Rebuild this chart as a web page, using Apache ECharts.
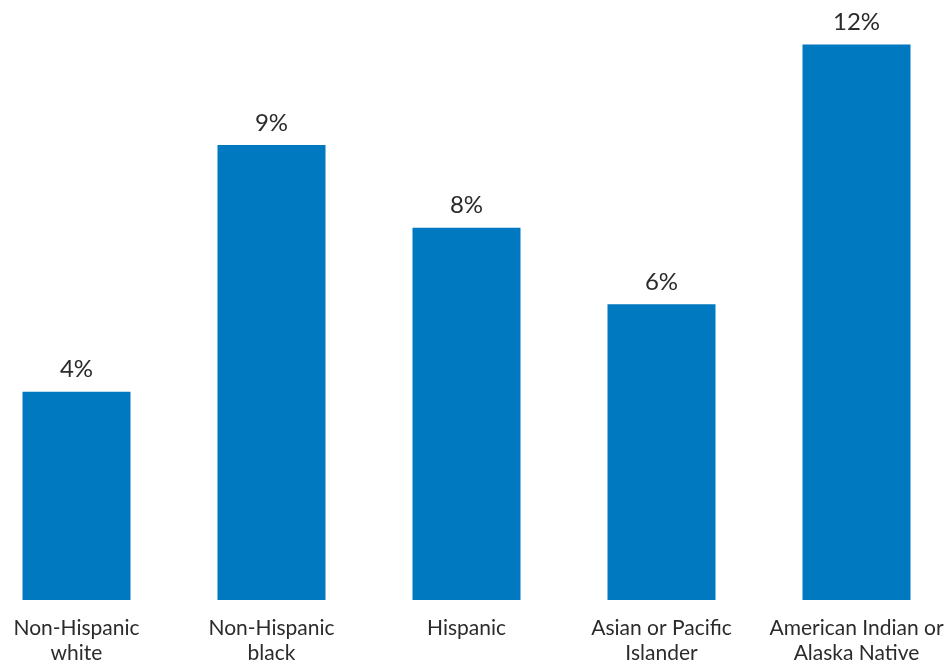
<!DOCTYPE html>
<html>
<head>
<meta charset="utf-8">
<script src="https://cdn.jsdelivr.net/npm/echarts@6/dist/echarts.min.js"></script>
<style>html,body{margin:0;padding:0;background:#fff;overflow:hidden;width:946px;height:666px}#c{position:absolute;left:-21.5px;top:0;width:975px;height:666px}</style>
</head>
<body>
<div id="c"></div>
<script>
const categories = ["Non-Hispanic\nwhite", "Non-Hispanic\nblack", "Hispanic", "Asian or Pacific\nIslander", "American Indian or\nAlaska Native"];
const values = [4.33, 9.46, 7.74, 6.15, 11.55];
const valueLabels = ["4%", "9%", "8%", "6%", "12%"];

const chart = echarts.init(document.getElementById('c'), null, {renderer: 'canvas'});
chart.setOption({
  animation: false,
  grid: {left: 0, right: 0, top: 22.8, bottom: 66},
  xAxis: {
    type: 'category',
    data: categories,
    axisLine: {show: false},
    axisTick: {show: false},
    axisLabel: {
      interval: 0,
      margin: 16,
      fontFamily: 'Lato',
      fontSize: 21,
      lineHeight: 25,
      color: '#2b2b2b'
    }
  },
  yAxis: {
    type: 'value',
    min: 0,
    max: 12,
    show: false,
    splitLine: {show: false}
  },
  series: [{
    type: 'bar',
    data: values,
    barWidth: 108,
    itemStyle: {color: '#0079c1'},
    label: {
      show: true,
      position: 'top',
      distance: 10,
      fontFamily: 'Lato',
      fontSize: 24,
      color: '#2b2b2b',
      formatter: p => valueLabels[p.dataIndex]
    }
  }]
});
</script>
</body>
</html>
